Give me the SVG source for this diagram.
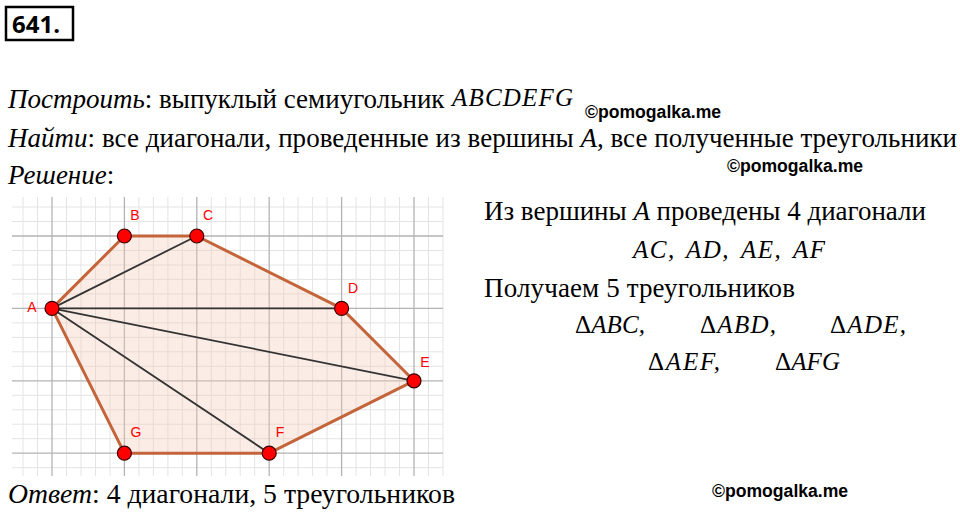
<svg xmlns="http://www.w3.org/2000/svg" width="960" height="517" viewBox="0 0 960 517">
<style>
.t{font-family:"Liberation Serif","Times New Roman",serif;font-size:27px;fill:#000}
.i{font-style:italic}
.u{font-style:normal}
.m{font-family:"Liberation Serif",serif;font-style:italic;font-size:25px;fill:#000}
.wm{font-family:"Liberation Sans",Arial,sans-serif;font-weight:bold;font-size:17.6px;fill:#000}
.mn{stroke:#e4e4e4;stroke-width:1}
.mj{stroke:#b4b4b4;stroke-width:1.3}
.edge{fill:none;stroke:#c4643a;stroke-width:3;stroke-linejoin:round}
.diag{stroke:#333;stroke-width:1.8}
.pt{fill:#ff0000;stroke:#3a0000;stroke-width:1.2}
.lb{font-family:"Liberation Sans",Arial,sans-serif;font-size:14px;fill:#ff0000;text-anchor:middle}
</style>
<rect width="960" height="517" fill="#fff"/>
<g id="title">
<rect x="6" y="7" width="67" height="33" fill="none" stroke="#000" stroke-width="2.5"/>
<text x="12" y="33" style="font-family:'Open Sans','Noto Sans',sans-serif;font-weight:bold;font-size:24px">641.</text>
</g>
<g id="text-top">
<text x="8" y="108" class="t"><tspan class="i">Построить</tspan>: выпуклый семиугольник</text>
<text x="452" y="106" class="m" textLength="121" lengthAdjust="spacing">ABCDEFG</text>
<text x="585" y="118" class="wm">©pomogalka.me</text>
<text x="8" y="147" class="t" textLength="949" lengthAdjust="spacing"><tspan class="i">Найти</tspan>: все диагонали, проведенные из вершины <tspan class="i">A</tspan>, все полученные треугольники</text>
<text x="727" y="172" class="wm">©pomogalka.me</text>
<text x="8" y="184" class="t"><tspan class="i">Решение</tspan>:</text>
</g>
<g id="grid">
<g class="mn">
<path d="M23 197V476M37.5 197V476M66.5 197V476M81 197V476M95.5 197V476M110 197V476M138.9 197V476M153.4 197V476M167.9 197V476M182.3 197V476M211.3 197V476M225.7 197V476M240.2 197V476M254.7 197V476M283.7 197V476M298.1 197V476M312.6 197V476M327.1 197V476M356.1 197V476M370.5 197V476M385 197V476M399.5 197V476M428.5 197V476M443 197V476"/>
<path d="M12 207H443M12 221.5H443M12 250.5H443M12 265H443M12 279.4H443M12 293.9H443M12 322.9H443M12 337.4H443M12 351.8H443M12 366.3H443M12 395.3H443M12 409.8H443M12 424.2H443M12 438.7H443M12 467.7H443"/>
</g>
<g class="mj">
<path d="M52 197V476M124.4 197V476M196.8 197V476M269.2 197V476M341.6 197V476M414 197V476"/>
<path d="M12 236H443M12 308.4H443M12 380.8H443M12 453.2H443"/>
</g>
</g>
<g id="polygon">
<polygon points="52,308.4 124.4,236 196.8,236 341.6,308.4 414,380.8 269.2,453.2 124.4,453.2" fill="#f3c8b4" fill-opacity="0.35" stroke="none"/>
</g>
<g id="connectors">
<line class="diag" x1="52" y1="308.4" x2="196.8" y2="236"/>
<line class="diag" x1="52" y1="308.4" x2="341.6" y2="308.4"/>
<line class="diag" x1="52" y1="308.4" x2="414" y2="380.8"/>
<line class="diag" x1="52" y1="308.4" x2="269.2" y2="453.2"/>
<polygon class="edge" points="52,308.4 124.4,236 196.8,236 341.6,308.4 414,380.8 269.2,453.2 124.4,453.2"/>
</g>
<g id="A"><circle class="pt" cx="52" cy="308.4" r="7"/><text class="lb" x="32" y="312">A</text></g>
<g id="B"><circle class="pt" cx="124.4" cy="236" r="7"/><text class="lb" x="135" y="220">B</text></g>
<g id="C"><circle class="pt" cx="196.8" cy="236" r="7"/><text class="lb" x="208" y="220">C</text></g>
<g id="D"><circle class="pt" cx="341.6" cy="308.4" r="7"/><text class="lb" x="353" y="293">D</text></g>
<g id="E"><circle class="pt" cx="414" cy="380.8" r="7"/><text class="lb" x="425" y="367">E</text></g>
<g id="F"><circle class="pt" cx="269.2" cy="453.2" r="7"/><text class="lb" x="280" y="437">F</text></g>
<g id="G"><circle class="pt" cx="124.4" cy="453.2" r="7"/><text class="lb" x="136" y="437">G</text></g>
<g id="text-right">
<text x="484" y="220" class="t" textLength="442" lengthAdjust="spacing">Из вершины <tspan class="i">A</tspan> проведены 4 диагонали</text>
<text y="258" class="m" style="letter-spacing:1.5px"><tspan x="633">AC,</tspan><tspan x="686">AD,</tspan><tspan x="741">AE,</tspan><tspan x="793">AF</tspan></text>
<text x="484" y="297" class="t" textLength="311" lengthAdjust="spacing">Получаем 5 треугольников</text>
<text x="575" y="333" class="m" textLength="70" lengthAdjust="spacing"><tspan class="u">Δ</tspan>ABC,</text>
<text x="700" y="333" class="m" textLength="76" lengthAdjust="spacing"><tspan class="u">Δ</tspan>ABD,</text>
<text x="830" y="333" class="m" textLength="76" lengthAdjust="spacing"><tspan class="u">Δ</tspan>ADE,</text>
<text x="648" y="370" class="m" textLength="72" lengthAdjust="spacing"><tspan class="u">Δ</tspan>AEF,</text>
<text x="775" y="370" class="m" textLength="65" lengthAdjust="spacing"><tspan class="u">Δ</tspan>AFG</text>
</g>
<g id="text-bottom">
<text x="8" y="503" class="t" textLength="447" lengthAdjust="spacingAndGlyphs"><tspan class="i">Ответ</tspan>: 4 диагонали, 5 треугольников</text>
<text x="712" y="497" class="wm">©pomogalka.me</text>
</g>
</svg>
